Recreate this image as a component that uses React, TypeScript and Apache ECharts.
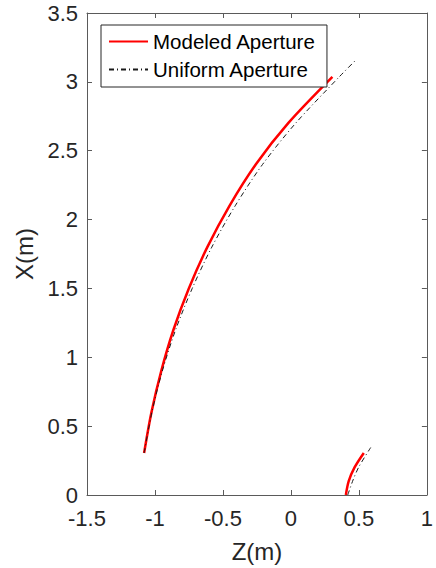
import React, { useEffect, useRef } from "react";
import * as echarts from "echarts";

// Modeled aperture — main branch (Z, X in metres)
const modeledMainX = [0.305, 0.6, 0.9, 1.2, 1.5, 1.8, 2.1, 2.4, 2.7, 3.036];
const modeledMainZ = [-1.08, -1.026, -0.954, -0.864, -0.751, -0.615, -0.452, -0.259, -0.02, 0.305];
// Modeled aperture — small branch
const modeledSmallX = [0.0, 0.1, 0.2, 0.305];
const modeledSmallZ = [0.404, 0.425, 0.468, 0.536];

// Uniform aperture — main branch
const uniformMainX = [0.305, 0.6, 0.9, 1.2, 1.5, 1.8, 2.1, 2.4, 2.7, 3.036, 3.159];
const uniformMainZ = [-1.08, -1.023, -0.946, -0.848, -0.726, -0.582, -0.41, -0.209, 0.035, 0.355, 0.478];
// Uniform aperture — small branch
const uniformSmallX = [0.0, 0.109, 0.205, 0.345];
const uniformSmallZ = [0.418, 0.457, 0.5, 0.587];

const seriesNames = ["Modeled Aperture", "Uniform Aperture"];
const zAxisRange = [-1.5, 1];
const xAxisRange = [0, 3.5];
const tickStep = 0.5;

const pairs = (z: number[], x: number[]) => z.map((v, i) => [v, x[i]]);

const FONT = "'Liberation Sans', Arial, Helvetica, sans-serif";
const AXIS_COLOR = "#5a5a5a";
const TEXT_COLOR = "#262626";

export default function App() {
  const ref = useRef<HTMLDivElement>(null);
  useEffect(() => {
    if (!ref.current) return;
    const chart = echarts.init(ref.current, undefined, { renderer: "svg" });
    const fmt = (v: number) => String(Number(v.toFixed(2)));
    const baseAxis = {
      type: "value" as const,
      interval: tickStep,
      axisLine: { show: true, onZero: false, lineStyle: { color: AXIS_COLOR, width: 1 } },
      axisTick: { show: true, inside: true, length: 5, lineStyle: { color: AXIS_COLOR } },
      splitLine: { show: false },
    };
    const redStyle = { color: "#ff0000", width: 2.5 };
    const blackStyle = { color: "#1a1a1a", width: 1, type: [5, 3, 1, 3] as any };
    const lineSeries = (name: string, data: number[][], style: any) => ({
      name,
      type: "line",
      data,
      symbol: "none",
      showSymbol: false,
      smooth: 0.3,
      lineStyle: style,
      itemStyle: { color: style.color },
    });
    chart.setOption({
      animation: false,
      backgroundColor: "#ffffff",
      textStyle: { fontFamily: FONT },
      grid: { left: 87, right: 4, top: 13, bottom: 73, containLabel: false },
      legend: {
        data: seriesNames,
        orient: "vertical",
        left: 101,
        top: 25,
        padding: [6, 11, 7, 7],
        itemGap: 7,
        itemWidth: 39,
        itemHeight: 14,
        itemStyle: { opacity: 0 },
        borderColor: "#262626",
        borderWidth: 1,
        backgroundColor: "#ffffff",
        textStyle: { fontSize: 20.5, color: "#000", fontFamily: FONT, lineHeight: 20 },
      },
      xAxis: [
        {
          ...baseAxis,
          min: zAxisRange[0],
          max: zAxisRange[1],
          position: "bottom",
          name: "Z(m)",
          nameLocation: "middle",
          nameGap: 44,
          nameTextStyle: { fontSize: 24, color: TEXT_COLOR, fontFamily: FONT },
          axisLabel: { fontSize: 22, color: TEXT_COLOR, margin: 12, formatter: fmt, fontFamily: FONT },
        },
        {
          ...baseAxis,
          min: zAxisRange[0],
          max: zAxisRange[1],
          position: "top",
          axisLabel: { show: false },
        },
      ],
      yAxis: [
        {
          ...baseAxis,
          min: xAxisRange[0],
          max: xAxisRange[1],
          position: "left",
          name: "X(m)",
          nameLocation: "middle",
          nameGap: 46,
          nameTextStyle: { fontSize: 24, color: TEXT_COLOR, fontFamily: FONT },
          axisLabel: { fontSize: 22, color: TEXT_COLOR, margin: 9, formatter: fmt, fontFamily: FONT },
        },
        {
          ...baseAxis,
          min: xAxisRange[0],
          max: xAxisRange[1],
          position: "right",
          axisLabel: { show: false },
        },
      ],
      series: [
        lineSeries(seriesNames[0], pairs(modeledMainZ, modeledMainX), redStyle),
        lineSeries(seriesNames[0], pairs(modeledSmallZ, modeledSmallX), redStyle),
        lineSeries(seriesNames[1], pairs(uniformMainZ, uniformMainX), blackStyle),
        lineSeries(seriesNames[1], pairs(uniformSmallZ, uniformSmallX), blackStyle),
      ],
    });
    return () => chart.dispose();
  }, []);
  return (
    <div
      ref={ref}
      style={{ position: "fixed", left: 0, top: 0, width: 436, height: 568, background: "#fff" }}
    />
  );
}
